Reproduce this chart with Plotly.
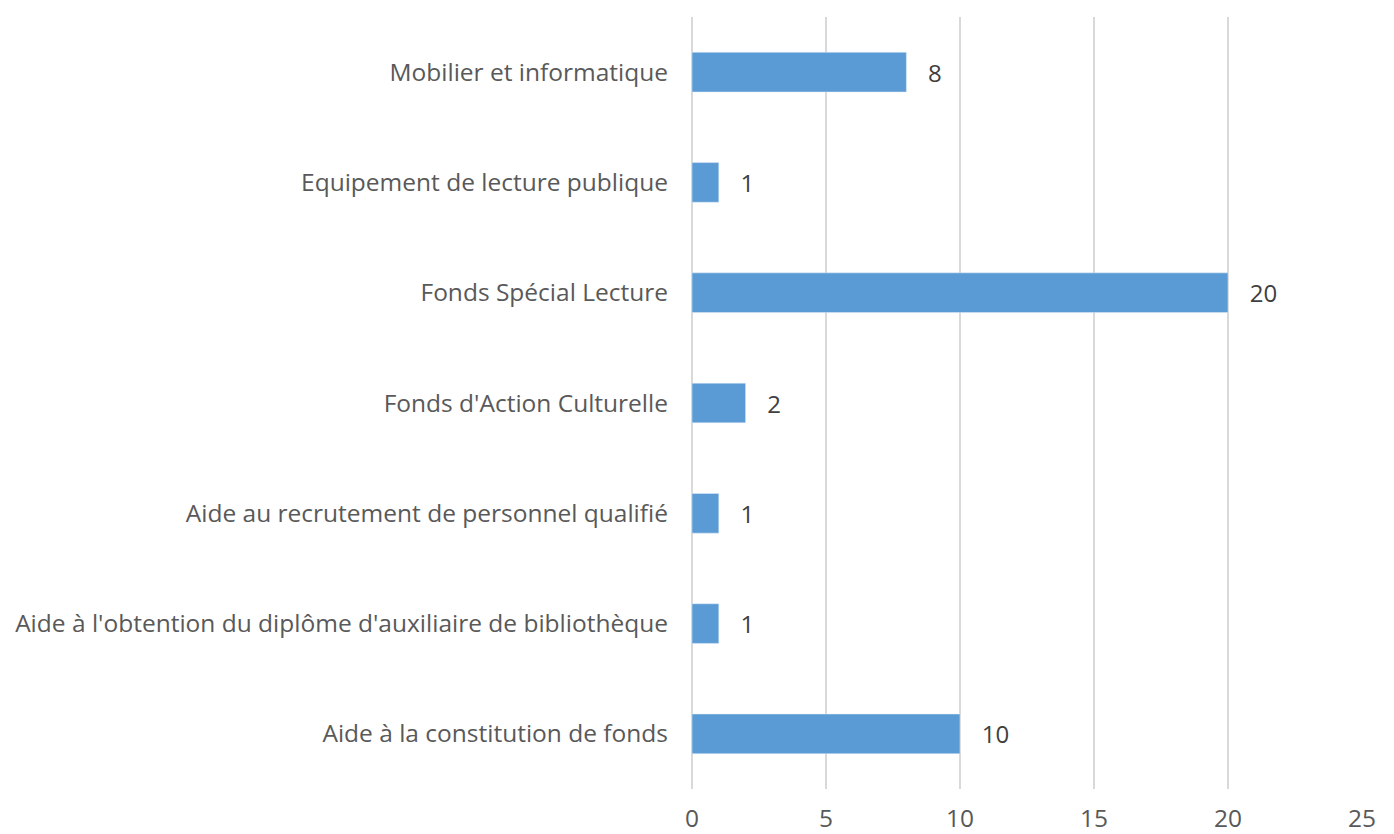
import plotly.graph_objects as go

categories = [
    "Mobilier et informatique",
    "Equipement de lecture publique",
    "Fonds Spécial Lecture",
    "Fonds d'Action Culturelle",
    "Aide au recrutement de personnel qualifié",
    "Aide à l'obtention du diplôme d'auxiliaire de bibliothèque",
    "Aide à la constitution de fonds",
]
values = [8, 1, 20, 2, 1, 1, 10]
x_ticks = [0, 5, 10, 15, 20, 25]

fig = go.Figure(
    go.Bar(
        x=values,
        y=categories,
        orientation="h",
        marker_color="#5B9BD5",
        width=0.36,
        text=values,
        texttemplate="   %{text}",
        textposition="outside",
        textfont=dict(size=24, color="#404040"),
        cliponaxis=False,
    )
)

# the page body has an 8px margin, so offsets are shifted by 8
fig.update_layout(
    width=1394,
    height=834,
    margin=dict(l=684, r=40, t=9, b=53),
    plot_bgcolor="white",
    paper_bgcolor="white",
    font=dict(family="Open Sans", size=24.5, color="#595959"),
    showlegend=False,
)
fig.update_xaxes(
    range=[0, 25],
    tickvals=x_ticks,
    showgrid=True,
    gridcolor="#D9D9D9",
    gridwidth=1.5,
    zeroline=True,
    zerolinecolor="#D9D9D9",
    zerolinewidth=1.5,
    ticks="",
    ticklabelstandoff=12,
    automargin=False,
)
fig.update_yaxes(
    autorange="reversed",
    showgrid=False,
    ticks="",
    ticklabelstandoff=23,
    automargin=False,
)

fig.write_html("out.html")
